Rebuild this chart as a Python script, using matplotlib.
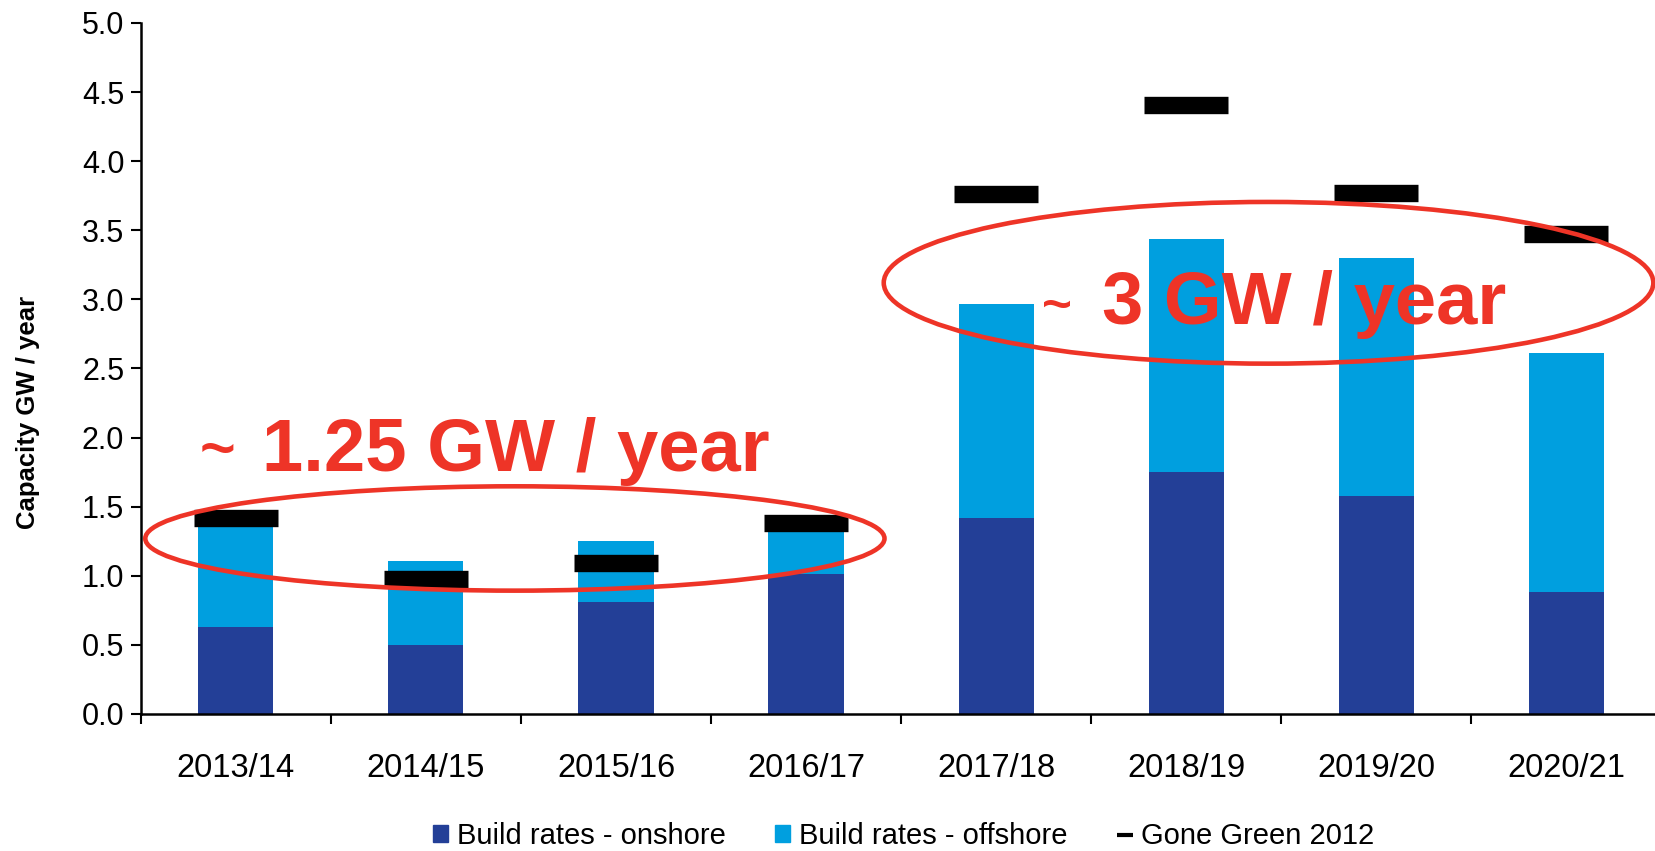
import matplotlib
matplotlib.use("Agg")
import matplotlib.pyplot as plt
from matplotlib.patches import Ellipse, Patch
from matplotlib.lines import Line2D
import numpy as np

categories = ["2013/14", "2014/15", "2015/16", "2016/17", "2017/18", "2018/19", "2019/20", "2020/21"]
onshore = [0.63, 0.50, 0.81, 1.01, 1.42, 1.75, 1.58, 0.88]
totals = [1.36, 1.11, 1.25, 1.32, 2.97, 3.44, 3.30, 2.61]
offshore = [t - o for t, o in zip(totals, onshore)]
gone_green = [1.42, 0.98, 1.09, 1.38, 3.76, 4.41, 3.77, 3.47]
yticks = [0.0, 0.5, 1.0, 1.5, 2.0, 2.5, 3.0, 3.5, 4.0, 4.5, 5.0]

plt.rcParams["font.family"] = ["Liberation Sans", "DejaVu Sans"]

C_ON = "#233F97"
C_OFF = "#009FDF"
RED = "#EE3427"

fig = plt.figure(figsize=(16.56, 8.51), dpi=100)
ax = fig.add_axes([0.0851, 0.161, 0.918, 0.812])

x = np.arange(len(categories))
w = 0.395
ax.bar(x, onshore, w, color=C_ON, zorder=2)
ax.bar(x, offshore, w, bottom=onshore, color=C_OFF, zorder=2)
ax.hlines(gone_green, x - 0.22, x + 0.22, colors="black", lw=12.5, zorder=3)

ax.set_xlim(-0.5, len(categories) - 0.5)
ax.set_ylim(0, 5.0)
ax.set_yticks(yticks)
ax.set_yticklabels([f"{v:.1f}" for v in yticks], fontsize=22)
ax.set_xticks(x)
ax.set_xticklabels(categories, fontsize=23.5)
ax.set_xticks(np.arange(-0.5, len(categories)), minor=True)
ax.tick_params(axis="x", which="major", length=0, pad=28)
ax.tick_params(axis="x", which="minor", length=7, width=1.5, direction="out")
ax.tick_params(axis="y", length=7, width=1.5, direction="out", pad=5)
for s in ["top", "right"]:
    ax.spines[s].set_visible(False)
for s in ["left", "bottom"]:
    ax.spines[s].set_linewidth(1.8)

ax.set_ylabel("Capacity GW / year", fontsize=18.5, fontweight="bold")
ax.yaxis.set_label_coords(-0.0664, 0.436)

# annotations
ax.add_patch(Ellipse((1.468, 1.27), 3.89, 0.755, fill=False, edgecolor=RED, lw=3.3, zorder=4, clip_on=False))
ax.add_patch(Ellipse((5.434, 3.12), 4.05, 1.17, fill=False, edgecolor=RED, lw=3.3, zorder=4, clip_on=False))
ax.text(-0.189, 1.78, "~", color=RED, fontsize=44, fontweight="bold", ha="left", va="baseline", zorder=5)
ax.text(0.135, 1.758, "1.25 GW / year", color=RED, fontsize=53.5, fontweight="bold", ha="left", va="baseline", zorder=5)
ax.text(4.242, 2.84, "~", color=RED, fontsize=37, fontweight="bold", ha="left", va="baseline", zorder=5)
ax.text(4.556, 2.822, "3 GW / year", color=RED, fontsize=53.5, fontweight="bold", ha="left", va="baseline", zorder=5)

handles = [Patch(color=C_ON), Patch(color=C_OFF),
           Line2D([], [], color="black", marker="_", lw=0, markersize=11.5, markeredgewidth=3)]
labels = ["Build rates - onshore", "Build rates - offshore", "Gone Green 2012"]
fig.legend(handles, labels, loc="center", bbox_to_anchor=(0.5456, 0.0176), ncol=3, frameon=False,
           fontsize=21, handlelength=0.52, handleheight=0.52, handletextpad=0.3, columnspacing=1.7,
           borderpad=0)

fig.savefig("out.png", dpi=100)
